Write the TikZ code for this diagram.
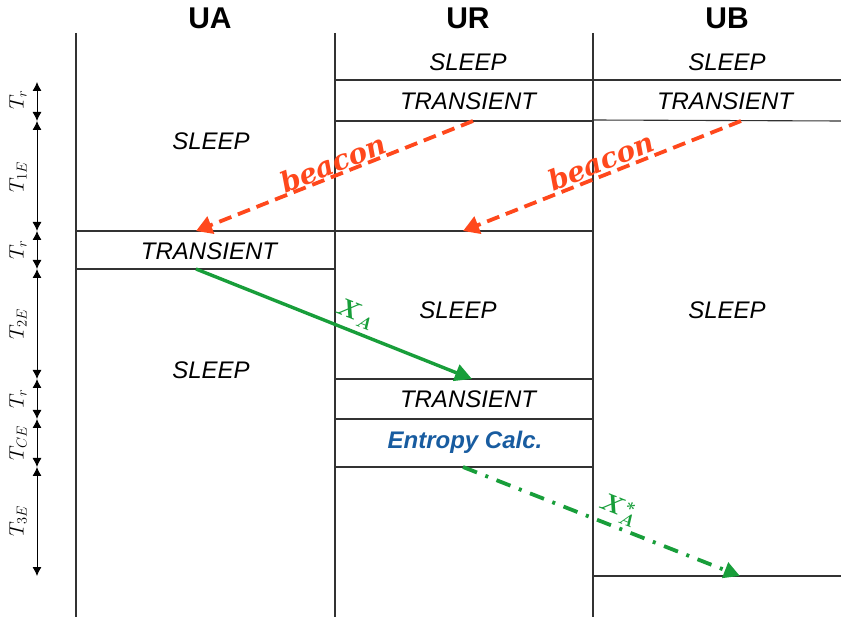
\documentclass[tikz,border=0pt]{standalone}
\usepackage{fontspec}
\usepackage{amsmath,bm}
\newfontfamily\arial{Liberation Sans}
\newfontfamily\dvserif{DejaVu Serif}
\usetikzlibrary{arrows.meta}
\definecolor{beaconc}{RGB}{255,72,28}
\definecolor{msgc}{RGB}{24,158,58}
\definecolor{entc}{RGB}{24,92,160}
\definecolor{linec}{RGB}{50,50,50}
\begin{document}
\begin{tikzpicture}[x=1pt,y=-1pt,
  lane/.style={draw=linec, line width=1.1pt},
  state/.style={font=\arial\itshape\fontsize{24}{26}\selectfont, inner sep=0pt},
  head/.style={font=\arial\bfseries\fontsize{30}{32}\selectfont, inner sep=0pt},
  calc/.style={font=\arial\bfseries\itshape\fontsize{24}{26}\selectfont, text=entc, inner sep=0pt},
  tlabel/.style={rotate=90, font=\fontsize{21}{23}\selectfont, inner sep=0pt},
  span/.style={draw=black, line width=0.9pt, {Latex[length=9pt,width=9pt]}-{Latex[length=9pt,width=9pt]}},
  beaconarrow/.style={draw=beaconc, line width=3.8pt, dash pattern=on 13pt off 7pt, -{Triangle[length=16pt,width=18pt]}},
  msgarrow/.style={draw=msgc, line width=3.4pt, -{Triangle[length=17pt,width=17pt]}},
  msgdash/.style={draw=msgc, line width=3.8pt, dash pattern=on 15pt off 9pt on 3pt off 9pt, -{Triangle[length=16pt,width=16pt]}},
  beaconlbl/.style={text=beaconc, font=\dvserif\bfseries\itshape\fontsize{28}{30}\selectfont, inner sep=0pt, rotate=21.7},
  msglbl/.style={text=msgc, font=\fontsize{27}{29}\selectfont, inner sep=0pt, rotate=-21.7}
]
\useasboundingbox (0,0) rectangle (841,617);

% headers
\node[head] (hUA) at (210,18) {UA};
\node[head] (hUR) at (468,18) {UR};
\node[head] (hUB) at (727,18) {UB};

% lanes
\draw[lane] (76,33) -- (76,617);
\draw[lane] (335,33) -- (335,617);
\draw[lane] (593,33) -- (593,617);

% state boundaries
\draw[lane] (335,80) -- (841,80);
\draw[lane] (335,121) -- (593,121);
\draw[lane] (593,120) -- (841,121);
\draw[lane] (76,231) -- (593,231);
\draw[lane] (76,269) -- (335,269);
\draw[lane] (335,379) -- (593,379);
\draw[lane] (335,419) -- (593,419);
\draw[lane] (335,467) -- (593,467);
\draw[lane] (593,576) -- (841,576);

% state texts
\node[state] (urs1) at (468,62) {SLEEP};
\node[state] (urt1) at (468,101) {TRANSIENT};
\node[state] (ubs1) at (727,62) {SLEEP};
\node[state] (ubt1) at (725,101) {TRANSIENT};
\node[state] (uas1) at (211,141) {SLEEP};
\node[state] (uat1) at (209,251) {TRANSIENT};
\node[state] (uas2) at (211,370) {SLEEP};
\node[state] (urs2) at (458,310) {SLEEP};
\node[state] (ubs2) at (727,310) {SLEEP};
\node[state] (urt2) at (468,399) {TRANSIENT};
\node[calc] (urc) at (465,442) {Entropy Calc.};

% message endpoints
\coordinate (b1s) at (473,121);
\coordinate (b1e) at (196,231);
\coordinate (b2s) at (741,121);
\coordinate (b2e) at (463,231);
\coordinate (xs) at (196,269);
\coordinate (xe) at (472,379);
\coordinate (ys) at (463,467);
\coordinate (ye) at (740,576);

\draw[beaconarrow] (b1s) -- (b1e);
\draw[beaconarrow] (b2s) -- (b2e);
\draw[msgarrow] (xs) -- (xe);
\draw[msgdash] (ys) -- (ye);

\node[beaconlbl] (bl1) at (333,163) {beacon};
\node[beaconlbl] (bl2) at (601,161) {beacon};
\node[msglbl] (xl) at (355,314) {$\boldsymbol{X_A}$};
\node[msglbl] (xsl) at (618,510) {$\boldsymbol{X_A^{*}}$};

% time axis
\coordinate (t0) at (37,82);
\coordinate (t1) at (37,121);
\coordinate (t2) at (37,231);
\coordinate (t3) at (37,269);
\coordinate (t4) at (37,379);
\coordinate (t5) at (37,419);
\coordinate (t6) at (37,467);
\coordinate (t7) at (37,576);
\draw[span] (t0) -- (t1);
\draw[span] (t1) -- (t2);
\draw[span] (t2) -- (t3);
\draw[span] (t3) -- (t4);
\draw[span] (t4) -- (t5);
\draw[span] (t5) -- (t6);
\draw[span] (t6) -- (t7);
\node[tlabel] (l1) at (18,100) {$T_r$};
\node[tlabel] (l2) at (18,177) {$T_{1E}$};
\node[tlabel] (l3) at (18,250) {$T_r$};
\node[tlabel] (l4) at (18,324) {$T_{2E}$};
\node[tlabel] (l5) at (18,399) {$T_r$};
\node[tlabel] (l6) at (18,443) {$T_{CE}$};
\node[tlabel] (l7) at (18,521) {$T_{3E}$};
\end{tikzpicture}
\end{document}
